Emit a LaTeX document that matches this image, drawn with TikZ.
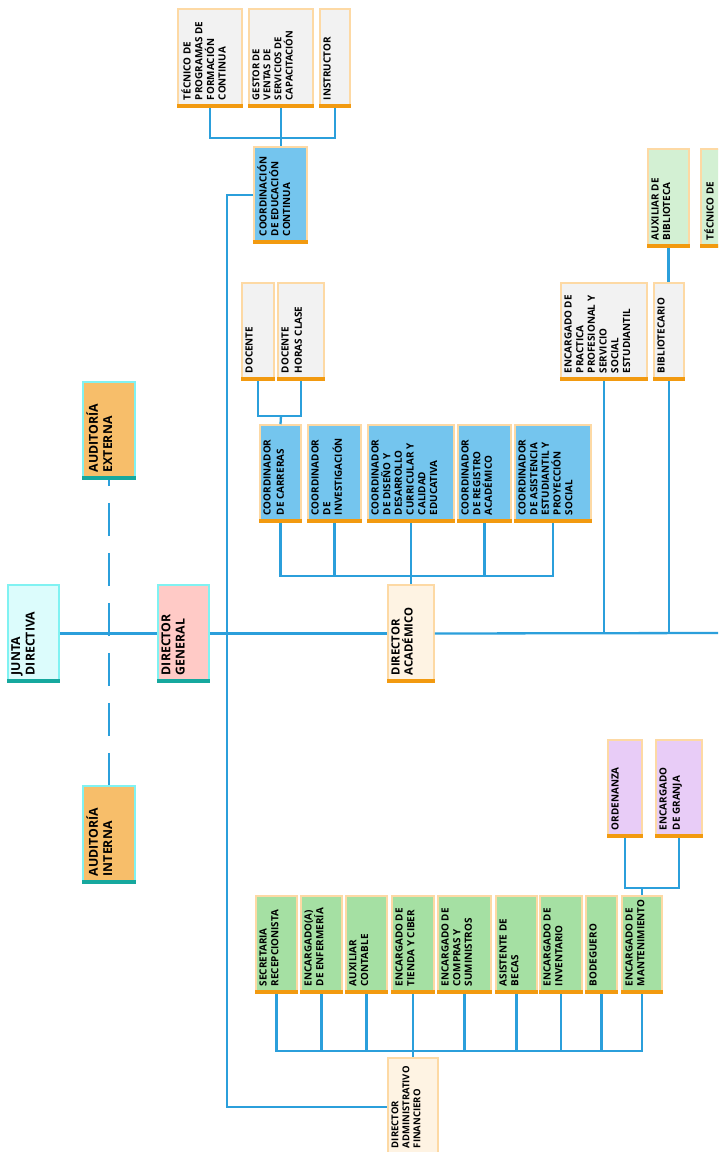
\documentclass[tikz,border=0pt]{standalone}
\usepackage{fontspec}
\setmainfont{Open Sans}
\definecolor{lineblue}{HTML}{2B9FDB}
\definecolor{barorange}{HTML}{F29A10}
\definecolor{peach}{HTML}{FDD9A4}
\definecolor{boxgray}{HTML}{F2F2F2}
\definecolor{boxblue}{HTML}{74C5EE}
\definecolor{boxgreen}{HTML}{A5E0A3}
\definecolor{boxlgreen}{HTML}{D3F0D3}
\definecolor{boxpurple}{HTML}{E8CCF7}
\definecolor{boxcream}{HTML}{FEF3E3}
\definecolor{cyanb}{HTML}{80F2F2}
\definecolor{tealbar}{HTML}{16A89E}
\definecolor{boxcyan}{HTML}{DCFCFC}
\definecolor{boxpink}{HTML}{FFCAC6}
\definecolor{boxaud}{HTML}{F7BE6A}
\newcommand\fsm{\fontsize{9.9}{11.7}\selectfont}
\newcommand\fsw{\fontsize{9.9}{13.2}\selectfont}
\newcommand\fxs{\fontsize{9.5}{11.1}\selectfont}
\newcommand\fmd{\fontsize{11.3}{13}\selectfont}
\newcommand\flg{\fontsize{12.3}{14.3}\selectfont}
\tikzset{
  gbox/.style={fill=boxgray,draw=peach},
  bbox/.style={fill=boxblue,draw=peach},
  grbox/.style={fill=boxgreen,draw=peach},
  lgbox/.style={fill=boxlgreen,draw=peach},
  pbox/.style={fill=boxpurple,draw=peach},
  cbox/.style={fill=boxcream,draw=peach},
  jbox/.style={fill=boxcyan,draw=cyanb},
  dgbox/.style={fill=boxpink,draw=cyanb},
  abox/.style={fill=boxaud,draw=cyanb},
  conn/.style={draw=lineblue,line width=2.3pt},
}
\newcommand\orgbox[9]{%
  \node[#6,line width=1.6pt,inner sep=0pt,minimum width={(#4-#2)*1pt},minimum height={(#5-#3)*1pt}] (#1) at ({(#2+#4)/2},{(#3+#5)/2}) {};
  \draw[line width=4pt,draw=#7] ([yshift=2pt]#1.south west) -- ([yshift=2pt]#1.south east);
  \node[rotate=90,anchor=north west,align=left,inner sep=0pt,font=#8\bfseries] (#1t) at ([xshift=4pt,yshift=7.5pt]#1.south west) {#9};
}
\begin{document}
\begin{tikzpicture}[x=1pt,y=-1pt]
\clip (0,0) rectangle (718,1152);
\fill[white] (0,0) rectangle (718,1152);
% coordinates for buses
\coordinate (b1) at (281,138);
\coordinate (b2) at (281,416);
\coordinate (b3) at (411,576);
\coordinate (b4) at (642,888);
\coordinate (b5) at (413,1051);
\coordinate (vb) at (227,1107);
\coordinate (rend) at (718,633);
% boxes
\orgbox{tec}{178}{9}{242}{107}{gbox}{barorange}{\fsm}{TÉCNICO DE\\PROGRAMAS DE\\FORMACIÓN\\CONTINUA}
\orgbox{gest}{249}{9}{313}{107}{gbox}{barorange}{\fxs}{GESTOR DE\\VENTAS DE\\SERVICIOS DE\\CAPACITACIÓN}
\orgbox{inst}{320}{9}{350}{107}{gbox}{barorange}{\fsm}{INSTRUCTOR}
\orgbox{coord}{254}{147}{307}{243}{bbox}{barorange}{\fsm}{COORDINACIÓN\\DE EDUCACIÓN\\CONTINUA}
\orgbox{doc}{242}{283}{274}{380}{gbox}{barorange}{\fsw}{DOCENTE}
\orgbox{dhc}{278}{283}{324}{380}{gbox}{barorange}{\fsw}{DOCENTE\\HORAS CLASE}
\orgbox{cc}{260}{425}{301}{522}{bbox}{barorange}{\fsw}{COORDINADOR\\DE CARRERAS}
\orgbox{ci}{308}{425}{361}{522}{bbox}{barorange}{\fsm}{COORDINADOR\\DE\\INVESTIGACIÓN}
\orgbox{cd}{368}{425}{454}{522}{bbox}{barorange}{\fsm}{COORDINADOR\\DE DISEÑO Y\\DESARROLLO\\CURRICULAR Y\\CALIDAD\\EDUCATIVA}
\orgbox{cr}{458}{425}{511}{522}{bbox}{barorange}{\fsm}{COORDINADOR\\DE REGISTRO\\ACADÉMICO}
\orgbox{ca}{515}{425}{591}{522}{bbox}{barorange}{\fsm}{COORDINADOR\\DE ASISTENCIA\\ESTUDIANTIL Y\\PROYECCIÓN\\SOCIAL}
\orgbox{da}{388}{585}{434}{682}{cbox}{barorange}{\fmd}{DIRECTOR\\ACADÉMICO}
\orgbox{ep}{561}{283}{647}{380}{gbox}{barorange}{\fsm}{ENCARGADO DE\\PRACTICA\\PROFESIONAL Y\\SERVICIO\\SOCIAL\\ESTUDIANTIL}
\orgbox{bib}{654}{283}{684}{380}{gbox}{barorange}{\fsm}{BIBLIOTECARIO}
\orgbox{aux}{648}{149}{689}{247}{lgbox}{barorange}{\fsm}{AUXILIAR DE\\BIBLIOTECA}
\orgbox{tecb}{701}{149}{745}{247}{lgbox}{barorange}{\fsm}{TÉCNICO DE}
\orgbox{jd}{8}{585}{59}{682}{jbox}{tealbar}{\flg}{JUNTA\\DIRECTIVA}
\orgbox{ae}{83}{382}{135}{479}{abox}{tealbar}{\flg}{AUDITORÍA\\EXTERNA}
\orgbox{ai}{83}{786}{135}{883}{abox}{tealbar}{\flg}{AUDITORÍA\\INTERNA}
\orgbox{dg}{158}{585}{209}{682}{dgbox}{tealbar}{\flg}{DIRECTOR\\GENERAL}
\orgbox{ord}{608}{740}{642}{837}{pbox}{barorange}{\fsw}{ORDENANZA}
\orgbox{gra}{656}{740}{702}{837}{pbox}{barorange}{\fsw}{ENCARGADO\\DE GRANJA}
\orgbox{sec}{256}{896}{297}{993}{grbox}{barorange}{\fsm}{SECRETARIA\\RECEPCIONISTA}
\orgbox{enf}{301}{896}{342}{993}{grbox}{barorange}{\fsm}{ENCARGADO(A)\\DE ENFERMERÍA}
\orgbox{auxc}{346}{896}{387}{993}{grbox}{barorange}{\fsm}{AUXILIAR\\CONTABLE}
\orgbox{tie}{392}{896}{434}{993}{grbox}{barorange}{\fsm}{ENCARGADO DE\\TIENDA Y CIBER}
\orgbox{com}{438}{896}{491}{993}{grbox}{barorange}{\fsm}{ENCARGADO DE\\COMPRAS Y\\SUMINISTROS}
\orgbox{bec}{496}{896}{537}{993}{grbox}{barorange}{\fsm}{ASISTENTE DE\\BECAS}
\orgbox{inv}{540}{896}{582}{993}{grbox}{barorange}{\fsm}{ENCARGADO DE\\INVENTARIO}
\orgbox{bod}{586}{896}{617}{993}{grbox}{barorange}{\fsm}{BODEGUERO}
\orgbox{man}{622}{896}{662}{993}{grbox}{barorange}{\fsm}{ENCARGADO DE\\MANTENIMIENTO}
\orgbox{daf}{388}{1058}{438}{1155}{cbox}{barorange}{\fxs}{DIRECTOR\\ADMINISTRATIVO\\FINANCIERO}
% connectors
\draw[conn] (tec.south) |- (b1) -| (inst.south);
\draw[conn] (gest.south) -- (gest.south |- coord.north);
\draw[conn] (coord.west) -| (vb) -- (daf.west |- vb);
\draw[conn] (doc.south) |- (b2) -| (dhc.south);
\draw[conn] (b2) -- (cc.north);
\draw[conn] (cc.south) |- (b3) -| (ca.south);
\draw[conn] (ci.south) -- (ci.south |- b3);
\draw[conn] (cd.south) -- (da.north);
\draw[conn] (cr.south) -- (cr.south |- b3);
\draw[conn] (jd.east) -- (dg.west);
\draw[conn] (dg.east) -- (da.west);
\draw[conn] (da.east) -- (rend);
\draw[conn] (ep.south) -- (ep.south |- rend);
\draw[conn] (bib.south) -- (bib.south |- rend);
\draw[conn] (aux.south) -- (aux.south |- bib.north);
\draw[conn,dash pattern=on 33pt off 17pt,dash phase=27pt] (ae.south) -- (ai.north);
\draw[conn] (ord.south) |- (b4) -| (gra.south);
\draw[conn] (b4) -- (man.north);
\draw[conn] (sec.south) |- (b5) -| (man.south);
\foreach \n in {enf,auxc,com,bec,inv,bod} \draw[conn] (\n.south) -- (\n.south |- b5);
\draw[conn] (tie.south) -- (daf.north);
\end{tikzpicture}
\end{document}
